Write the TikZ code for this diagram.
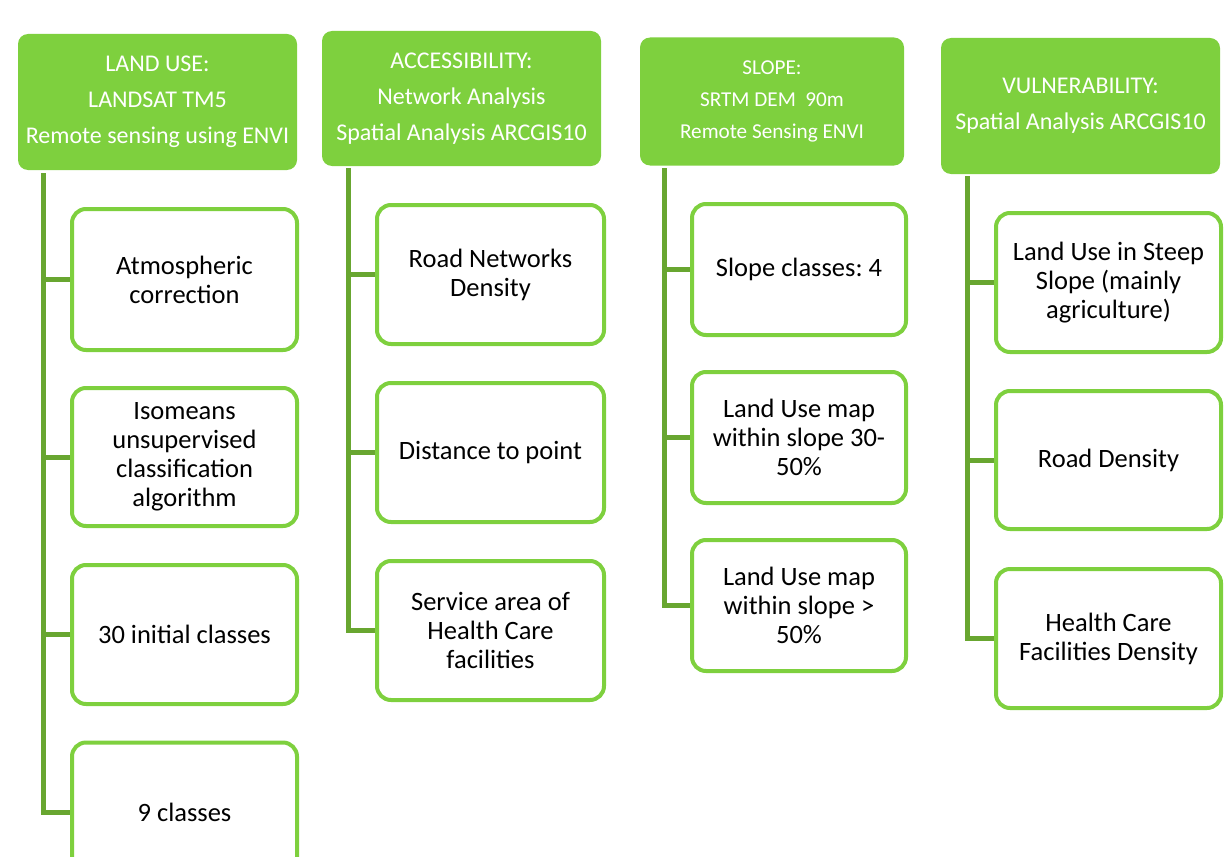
\documentclass[tikz,border=0pt]{standalone}
\usepackage{fontspec}
\setmainfont{Carlito}
\frenchspacing
\usetikzlibrary{backgrounds}
\definecolor{hdrgreen}{RGB}{126,208,62}
\definecolor{boxgreen}{RGB}{126,208,62}
\definecolor{linegreen}{RGB}{104,166,48}
\tikzset{
  hdr/.style={rectangle, rounded corners=10pt, fill=hdrgreen, text=white, align=center, inner sep=0pt, font=\fontsize{24}{36}\selectfont},
  child/.style={rectangle, rounded corners=14pt, draw=boxgreen, line width=4pt, fill=white, text=black, align=center, inner sep=0pt, font=\fontsize{26.5}{29}\selectfont},
  conn/.style={draw=linegreen, line width=5pt}
}
\begin{document}
\begin{tikzpicture}[x=1pt,y=-1pt]
\useasboundingbox (0,0) rectangle (1225,856);
\clip (0,0) rectangle (1225,856);
% headers
\node[hdr, minimum width=279pt, minimum height=136pt] (h1) at (157.5,102) {LAND USE:\\LANDSAT TM5\\Remote sensing using ENVI};
\node[hdr, minimum width=279pt, minimum height=135pt] (h2) at (461.5,98.5) {ACCESSIBILITY:\\Network Analysis\\Spatial Analysis ARCGIS10};
\node[hdr, minimum width=264pt, minimum height=128pt, font=\fontsize{21.2}{32}\selectfont] (h3) at (772,101.5) {SLOPE:\\SRTM DEM\ \ 90m\\Remote Sensing ENVI};
\node[hdr, minimum width=279pt, minimum height=136pt] (h4) at (1080.5,106) {VULNERABILITY:\\Spatial Analysis ARCGIS10};
% column 1
\node[child, minimum width=225pt, minimum height=141pt] (c11) at (184.5,279.5) {Atmospheric\\correction};
\node[child, minimum width=225pt, minimum height=138pt] (c12) at (184.5,457) {Isomeans\\unsupervised\\classification\\algorithm};
\node[child, minimum width=225pt, minimum height=139pt] (c13) at (184.5,634.5) {30 initial classes};
\node[child, minimum width=225pt, minimum height=139pt] (c14) at (184.5,812) {9 classes};
% column 2
\node[child, minimum width=227pt, minimum height=139pt] (c21) at (490.5,274.5) {Road Networks\\Density};
\node[child, minimum width=227pt, minimum height=139pt] (c22) at (490.5,452.5) {Distance to point};
\node[child, minimum width=227pt, minimum height=139pt] (c23) at (490.5,630.5) {Service area of\\Health Care\\facilities};
% column 3
\node[child, minimum width=214pt, minimum height=131pt] (c31) at (799,269.5) {Slope classes: 4};
\node[child, minimum width=214pt, minimum height=131pt] (c32) at (799,437.5) {Land Use map\\within slope 30-\\50\%};
\node[child, minimum width=214pt, minimum height=131pt] (c33) at (799,605.5) {Land Use map\\within slope >\\50\%};
% column 4
\node[child, minimum width=225pt, minimum height=139pt] (c41) at (1108.5,282.5) {Land Use in Steep\\Slope (mainly\\agriculture)};
\node[child, minimum width=225pt, minimum height=138pt] (c42) at (1108.5,460) {Road Density};
\node[child, minimum width=225pt, minimum height=139pt] (c43) at (1108.5,638.5) {Health Care\\Facilities Density};
% trunk tops
\coordinate (t1) at (43,173);
\coordinate (t2) at (348,168);
\coordinate (t3) at (664,168);
\coordinate (t4) at (967,176);
% connectors
\begin{scope}[on background layer]
\draw[conn] (t1) |- (c14.west);
\draw[conn] (t1|-c11.west) -- (c11.west);
\draw[conn] (t1|-c12.west) -- (c12.west);
\draw[conn] (t1|-c13.west) -- (c13.west);
\draw[conn] (t2) |- (c23.west);
\draw[conn] (t2|-c21.west) -- (c21.west);
\draw[conn] (t2|-c22.west) -- (c22.west);
\draw[conn] (t3) |- (c33.west);
\draw[conn] (t3|-c31.west) -- (c31.west);
\draw[conn] (t3|-c32.west) -- (c32.west);
\draw[conn] (t4) |- (c43.west);
\draw[conn] (t4|-c41.west) -- (c41.west);
\draw[conn] (t4|-c42.west) -- (c42.west);
\end{scope}
\end{tikzpicture}
\end{document}
